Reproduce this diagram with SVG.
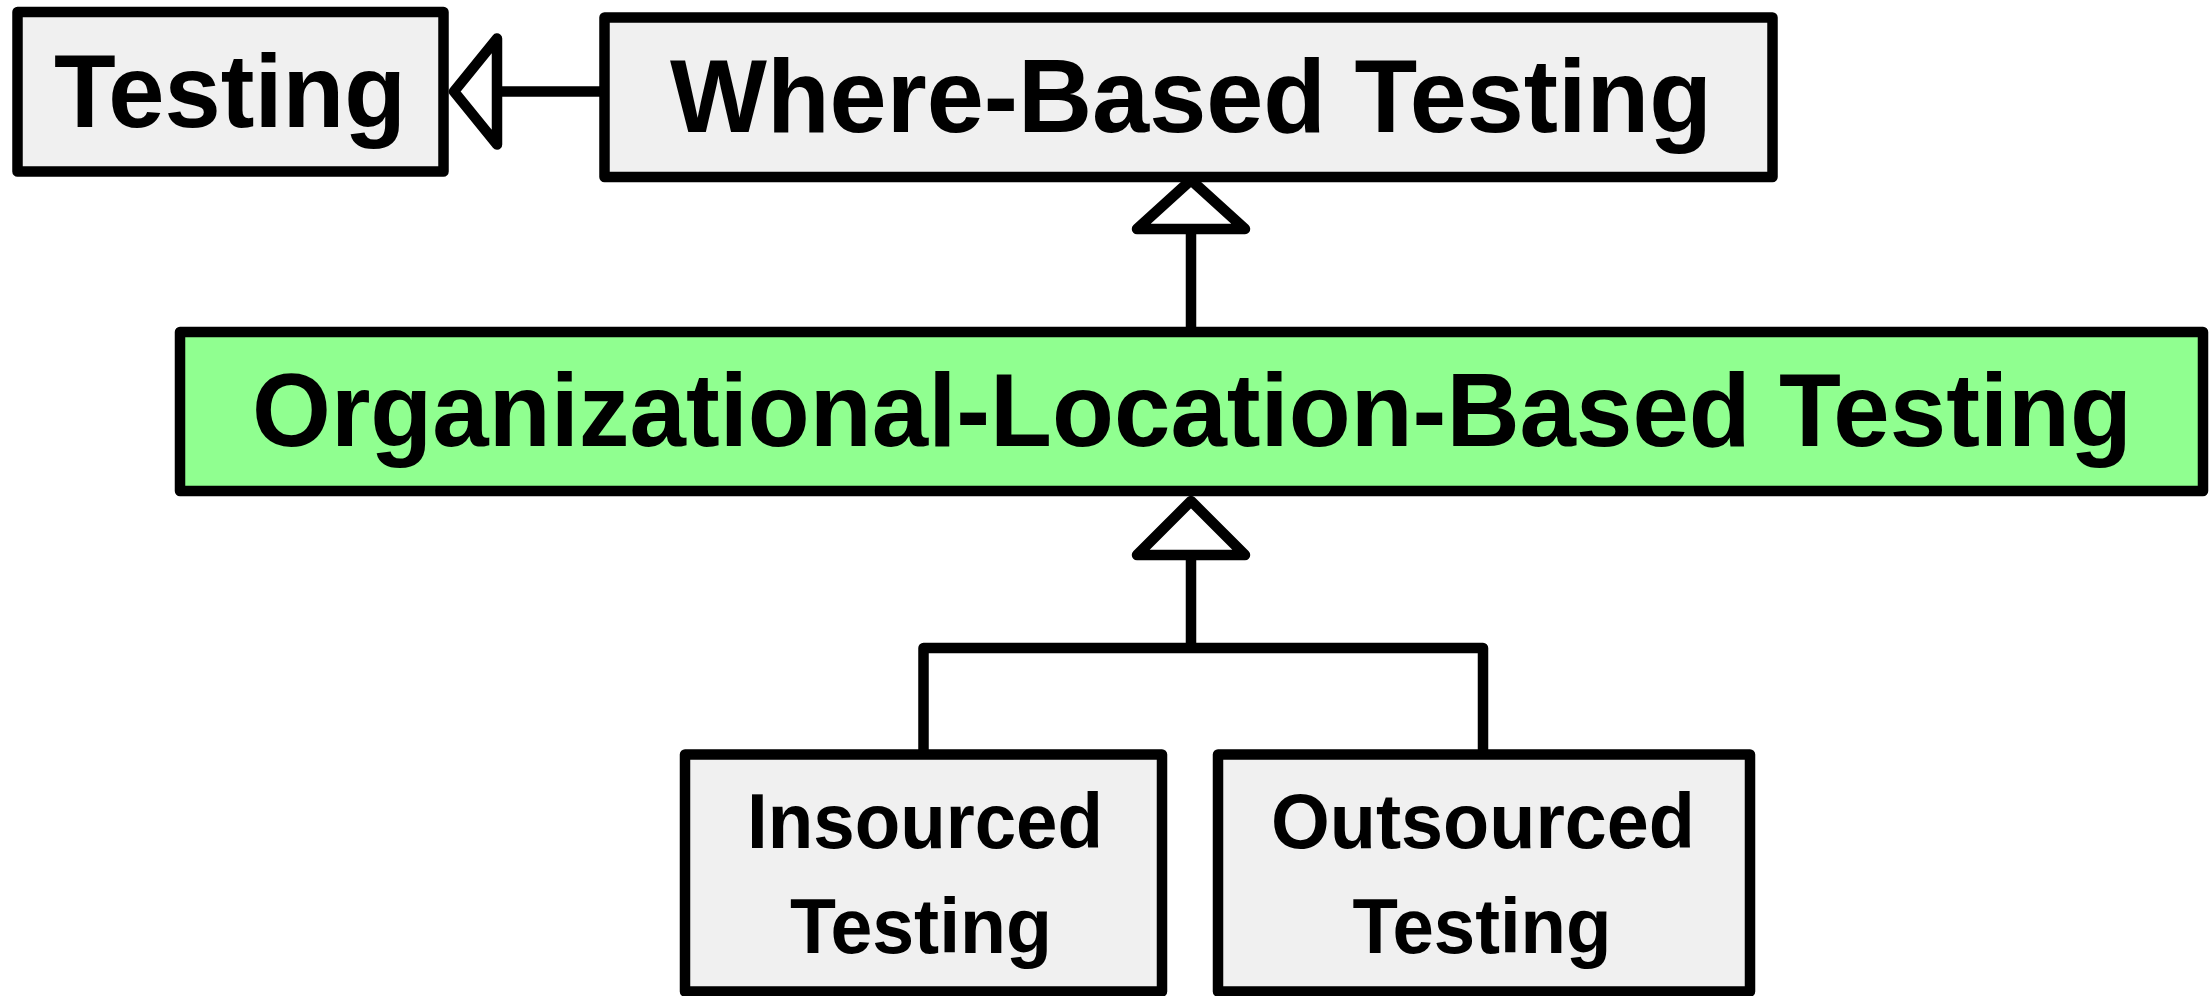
<svg xmlns="http://www.w3.org/2000/svg" width="2212" height="996" viewBox="0 0 2212 996">
<style>
.box{fill:#f0f0f0;stroke:#000;stroke-width:10.5;stroke-linejoin:round}
.green{fill:#90ff90}
.lbl{font-family:"Liberation Sans",Arial,sans-serif;font-weight:bold;fill:#000;text-anchor:middle}
.big{font-size:103px}
.small{font-size:77px}
.con{fill:none;stroke:#000;stroke-width:10.5;stroke-linejoin:round;stroke-linecap:butt}
.head{fill:#fff;stroke:#000;stroke-width:10.5;stroke-linejoin:round}
</style>
<rect width="2212" height="996" fill="#fff"/>
<g id="node-testing">
<rect class="box" x="17.5" y="12" width="426" height="159.5"/>
<text class="lbl big" x="230" y="127" textLength="352" lengthAdjust="spacingAndGlyphs">Testing</text>
</g>
<g id="node-where">
<rect class="box" x="604.5" y="17.5" width="1168" height="159.5"/>
<text class="lbl big" x="1191" y="132" textLength="1042" lengthAdjust="spacingAndGlyphs">Where-Based Testing</text>
</g>
<g id="node-org">
<rect class="box green" x="180" y="332" width="2023" height="159"/>
<text class="lbl big" x="1192" y="446" textLength="1880" lengthAdjust="spacingAndGlyphs">Organizational-Location-Based Testing</text>
</g>
<g id="node-insourced">
<rect class="box" x="685" y="754.5" width="477" height="237"/>
<text class="lbl small" x="925" y="848" textLength="356" lengthAdjust="spacingAndGlyphs">Insourced</text>
<text class="lbl small" x="921" y="953" textLength="262" lengthAdjust="spacingAndGlyphs">Testing</text>
</g>
<g id="node-outsourced">
<rect class="box" x="1218" y="754.5" width="532" height="237"/>
<text class="lbl small" x="1483" y="848" textLength="424" lengthAdjust="spacingAndGlyphs">Outsourced</text>
<text class="lbl small" x="1482" y="953" textLength="259" lengthAdjust="spacingAndGlyphs">Testing</text>
</g>
<g id="connectors">
<path class="con" d="M604.5 91.5 H497"/>
<path class="head" d="M454 91.5 L497 38.5 L497 144.5 Z"/>
<path class="con" d="M1191 332 V229"/>
<path class="head" d="M1191 180 L1245 229 L1137 229 Z"/>
<path class="con" d="M923.5 754.5 V648 H1483 V754.5"/>
<path class="con" d="M1191 648 V555"/>
<path class="head" d="M1191 501 L1245 555 L1137 555 Z"/>
</g>
</svg>
